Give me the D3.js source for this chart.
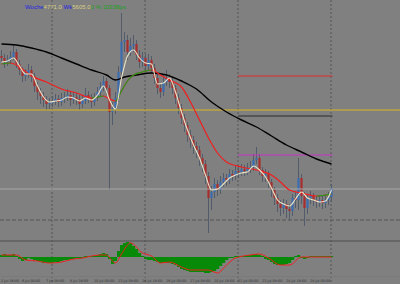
<!DOCTYPE html>
<html>
<head>
<meta charset="utf-8">
<script src="https://cdn.jsdelivr.net/npm/d3@7"></script>
<style>
html, body { margin: 0; padding: 0; background: #808080; }
svg { display: block; }
</style>
</head>
<body>
<svg width="400" height="284"></svg>
<script>
// H4 candles, prices in points
const barOpen = [244,242,238,240,243,248,236,230,224,226,
230,224,214,208,204,200,196,197,199,201,
198,202,203,205,200,203,201,196,199,205,
202,198,202,208,213,219,212,188,192,202,
228,258,260,248,254,256,245,238,242,234,
240,232,222,212,208,218,222,218,212,202,
192,182,175,165,160,154,150,142,136,124,
102,108,116,110,118,122,120,126,124,129,
128,131,129,132,133,140,142,130,124,126,
118,110,102,96,92,96,91,89,102,100,
122,104,92,102,104,100,98,100,97,100,
103];
const barHigh = [250,246,245,249,255,251,240,233,231,236,
234,227,218,212,208,204,202,204,206,205,
207,208,211,209,208,207,205,204,212,209,
206,207,213,218,224,222,215,198,208,234,
287,268,265,262,265,260,250,248,246,246,
244,236,226,216,226,230,226,222,215,206,
196,186,178,170,164,158,154,146,140,128,
114,122,120,124,127,126,131,130,134,133,
136,135,137,139,146,153,146,133,131,129,
121,113,106,100,101,100,96,106,108,142,
126,108,106,109,107,104,105,104,104,108,
116];
const barLow = [238,232,234,236,240,232,225,218,219,222,
218,208,200,196,193,190,191,193,195,193,
194,197,199,194,196,195,190,192,196,197,
192,194,199,204,209,205,110,175,186,198,
224,248,240,244,248,240,232,233,228,230,
226,216,206,202,204,214,212,206,196,186,
176,168,158,152,146,142,134,128,116,67,
90,102,104,106,113,114,116,119,120,122,
124,124,125,127,129,136,125,118,118,112,
103,95,88,84,86,82,80,84,92,90,
96,74,86,96,94,92,93,91,92,95,
98];
const barClose = [242,238,240,243,248,236,230,224,226,230,
224,214,208,204,200,196,197,199,201,198,
202,203,205,200,203,201,196,199,205,202,
198,202,208,213,219,212,188,192,202,228,
258,260,248,254,256,245,238,242,234,240,
232,222,212,208,218,222,218,212,202,192,
182,175,165,160,154,150,142,136,124,102,
108,116,110,118,122,120,126,124,129,128,
131,129,132,133,140,142,130,124,126,118,
110,102,96,92,96,91,89,102,100,122,
104,92,102,104,100,98,100,97,100,103,
112];

// moving averages (bar index, value)
const slowIdx = [0,5,10,15,20,25,30,35,38,41,45,50,55,60,65,70,75,80,85,90,95,100,105,110];
const slowVal = [256,255,252,248,242,236,230,225,220,223,225,227,225,219,211,198,188,180,173,164,155,148,141,136];

const midIdx = [0,3,6,10,15,20,25,30,32,34,36,38,40,42,44,47,50,53,56,60,63,66,69,72,75,80,85,90,93,96,100,105,110];
const midVal = [236,237,233,224,218,211,207,202,203,204,201,199,209,219,225,228,230,225,220,213,198,180,162,147,138,133,130,125,118,110,107,104,106];

const fastIdx = d3.range(0, 111, 2);
const fastVal = [238,239,242,234,226,226,214,203,198,199,200,203,202,199,202,200,205,214,200,191,
222,244,250,242,237,236,216,217,222,208,188,170,155,142,125,110,111,116,122,125,
127,128,134,130,123,112,100,96,94,101,108,102,100,98,99,110];

// levels
const levelYellow = 190;
const levelLight = 111;
const levelDash = 80;
const weekLevels = [
  { value: 224, color: "#e02a2a", width: 1 },
  { value: 184, color: "#555555", width: 2 },
  { value: 145, color: "#c832c8", width: 1 }
];

// oscillator
const histVal = [2,3,2,2,3,1,-2,-4,-3,-1,
-2,-3,-4,-5,-6,-6,-6,-6,-5,-5,
-4,-3,-3,-2,-2,-1,-2,-1,1,1,
1,1,2,3,4,3,-2,-7,-4,6,
12,14,15,14,11,8,4,1,-2,-3,
-3,-4,-5,-6,-6,-6,-6,-7,-8,-10,
-12,-13,-14,-15,-15,-15,-15,-15,-16,-16,
-15,-14,-12,-9,-6,-3,-1,-1,1,1,
1,1,2,2,3,3,2,1,-2,-3,
-5,-7,-8,-8,-8,-7,-6,-3,1,2,
-1,-2,-1,1,1,1,1,1,1,1,
1];
const sigIdx = [0,5,8,12,16,20,24,27,30,33,35,37,38,40,43,47,50,53,56,60,63,69,72,75,78,83,86,89,93,96,100,103,110];
const sigVal = [2,2,-3,-4,-6,-5,-2,-1,1,2,2,-4,-6,3,14,4,1,-6,-5,-10,-13,-13,-16,-8,-1,2,3,-1,-8,-8,0,0,0];

// time axis
const sepBars = [17, 48, 79, 110];
const labelBars = [0,7,15,23,31,39,47,55,63,71,79,87,95,103];
const labelText = ["2 Jul 16:00","6 Jul 00:00","7 Jul 08:00","8 Jul 16:00","10 Jul 00:00","13 Jul 08:00",
  "14 Jul 16:00","16 Jul 00:00","17 Jul 08:00","20 Jul 16:00","22 Jul 00:00","23 Jul 08:00",
  "24 Jul 16:00","28 Jul 00:00"];

const svg = d3.select("svg");
const defs = svg.append("defs");

const x = d3.scaleLinear().domain([0, barClose.length]).range([0, 333]);
const cx = i => x(i + 0.5);
const y = d3.scaleLinear().domain([60, 300]).range([240, 0]);
const yM = d3.scaleLinear().domain([-19, 16]).range([276, 241]);

defs.append("clipPath").attr("id", "mainClip")
  .append("rect").attr("x", 0).attr("y", 0).attr("width", 400).attr("height", 240);

// period separators
svg.append("g").selectAll("line").data(sepBars).join("line")
  .attr("x1", d => cx(d) - 0.5).attr("x2", d => cx(d) - 0.5)
  .attr("y1", 0).attr("y2", 284)
  .attr("stroke", "#555").attr("stroke-width", 1).attr("stroke-dasharray", "2,2");

const main = svg.append("g").attr("clip-path", "url(#mainClip)");

// candles
const bars = d3.range(barClose.length);
main.append("g").selectAll("line").data(bars).join("line")
  .attr("x1", i => cx(i)).attr("x2", i => cx(i))
  .attr("y1", i => y(barHigh[i])).attr("y2", i => y(barLow[i]))
  .attr("stroke", "#525c6a").attr("stroke-width", 1);
main.append("g").selectAll("rect").data(bars).join("rect")
  .attr("x", i => cx(i) - 1.1)
  .attr("width", 2.2)
  .attr("y", i => y(Math.max(barOpen[i], barClose[i])))
  .attr("height", i => Math.max(1, Math.abs(y(barOpen[i]) - y(barClose[i]))))
  .attr("fill", i => barClose[i] >= barOpen[i] ? "#3a6db0" : "#a82e2e");

// levels
main.append("line").attr("x1", 0).attr("x2", 400)
  .attr("y1", y(levelLight)).attr("y2", y(levelLight))
  .attr("stroke", "#a9a9a9").attr("stroke-width", 1);
main.append("line").attr("x1", 0).attr("x2", 400)
  .attr("y1", y(levelDash)).attr("y2", y(levelDash))
  .attr("stroke", "#555").attr("stroke-width", 1).attr("stroke-dasharray", "4,2");
main.append("g").selectAll("line").data(weekLevels).join("line")
  .attr("x1", cx(sepBars[2]) - 0.5).attr("x2", cx(sepBars[3]) + 1)
  .attr("y1", d => y(d.value)).attr("y2", d => y(d.value))
  .attr("stroke", d => d.color).attr("stroke-width", d => d.width);
main.append("line").attr("x1", 0).attr("x2", 400)
  .attr("y1", y(levelYellow)).attr("y2", y(levelYellow))
  .attr("stroke", "#dcb81c").attr("stroke-width", 1.2);

// moving averages
const line = d3.line().curve(d3.curveMonotoneX);
main.append("path")
  .attr("d", line(slowIdx.map((d, k) => [cx(d), y(slowVal[k])])))
  .attr("fill", "none").attr("stroke", "#000").attr("stroke-width", 1.4);

const midPath = line(midIdx.map((d, k) => [cx(d), y(midVal[k])]));
main.append("path").attr("d", midPath)
  .attr("fill", "none").attr("stroke", "#f01e1e").attr("stroke-width", 1.2);
const rising = d3.range(midIdx.length - 1).filter(k => midVal[k + 1] > midVal[k]);
defs.append("clipPath").attr("id", "riseClip").selectAll("rect").data(rising).join("rect")
  .attr("x", k => cx(midIdx[k])).attr("width", k => cx(midIdx[k + 1]) - cx(midIdx[k]))
  .attr("y", 0).attr("height", 240);
main.append("path").attr("d", midPath).attr("clip-path", "url(#riseClip)")
  .attr("fill", "none").attr("stroke", "#1f9a1f").attr("stroke-width", 1.2);

main.append("path")
  .attr("d", line(fastIdx.map((d, k) => [cx(d), y(fastVal[k])])))
  .attr("fill", "none").attr("stroke", "#ebe4c8").attr("stroke-width", 1.1);

// window separator
svg.append("line").attr("x1", 0).attr("x2", 400).attr("y1", 241).attr("y2", 241)
  .attr("stroke", "#4e4e4e").attr("stroke-width", 1);
svg.append("line").attr("x1", 0).attr("x2", 400).attr("y1", 276.5).attr("y2", 276.5)
  .attr("stroke", "#7a7a7a").attr("stroke-width", 1);

// oscillator
svg.append("g").selectAll("rect").data(bars).join("rect")
  .attr("x", i => x(i)).attr("width", x(1) - x(0) + 0.2)
  .attr("y", i => Math.min(yM(0), yM(histVal[i])))
  .attr("height", i => Math.abs(yM(histVal[i]) - yM(0)))
  .attr("fill", "#078a07");
svg.append("path")
  .attr("d", line(sigIdx.map((d, k) => [cx(d), yM(sigVal[k])])))
  .attr("fill", "none").attr("stroke", "#f02020").attr("stroke-width", 1);

// time labels
svg.append("g").selectAll("text").data(labelBars).join("text")
  .attr("x", d => x(d) + 1).attr("y", 282)
  .attr("font-family", "DejaVu Sans").attr("font-size", 3.4)
  .attr("fill", "#333")
  .text((d, k) => labelText[k]);

// title
const title = svg.append("text").attr("x", 25).attr("y", 9)
  .attr("font-family", "Liberation Sans").attr("font-size", 6);
title.append("tspan").attr("fill", "#2424e0").text("Woche");
title.append("tspan").attr("fill", "#d8cc84").text("4771.0 ");
title.append("tspan").attr("fill", "#2424e0").text("Wk");
title.append("tspan").attr("fill", "#d8cc84").text("5605.0");
title.append("tspan").attr("fill", "#18a018").text("0   %  10338ps");
</script>
</body>
</html>
